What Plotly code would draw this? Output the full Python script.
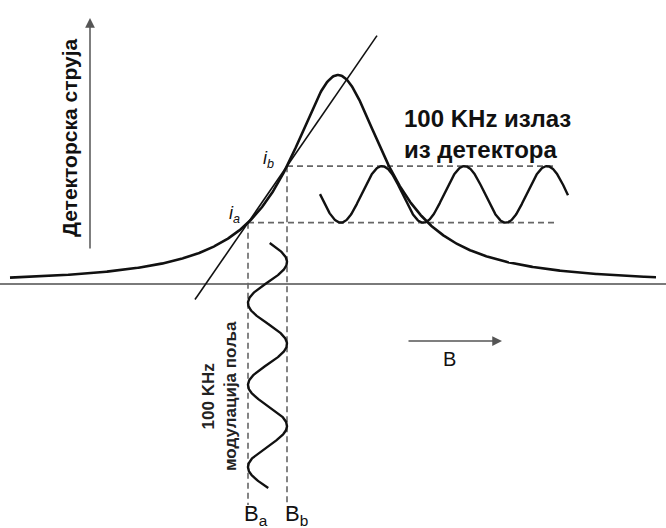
import numpy as np
import plotly.graph_objects as go

# Resonance line (Lorentzian absorption) of the detector current vs field B
B_center = 338.0      # resonance field
line_height = 209.0   # peak detector current above baseline
half_width = 58.0     # half width at half maximum
B_span = [10.0, 656.0]

# Operating points on the flank of the line
B_a = 248.0
B_b = 287.0

# 100 kHz field modulation drawn below the axis (vertical sine)
mod_period = 82.0
mod_phase_y = -262.0 + 284.0   # level of first B_b extreme
mod_y_span = [41.0, -204.0]

# 100 kHz output of the detector (horizontal sine)
out_period = 82.5
out_peak_B = 382.0
out_B_span = [320.0, 568.0]

# Extents of helper lines
guide_bottom = -221.0
guide_right_b = 555.0
guide_right_a = 558.0
secant_B_span = [195.0, 377.0]

BLACK = "#111111"
GREY = "#555555"
DASH = "#666666"
FONT = "Liberation Sans, Arial, sans-serif"


def lorentz(B):
    return line_height / (1.0 + ((B - B_center) / half_width) ** 2)


I_a = lorentz(B_a)
I_b = lorentz(B_b)

fig = go.Figure()

# baseline of the current axis
fig.add_trace(go.Scatter(x=[0, 666], y=[0, 0], mode="lines",
                         line=dict(color="#7a7a7a", width=2.2), hoverinfo="skip"))

# dashed guides
for xs, ys in [
    ([B_a, B_a], [I_a, guide_bottom]),
    ([B_b, B_b], [I_b, guide_bottom]),
    ([B_b, guide_right_b], [I_b, I_b]),
    ([B_a, guide_right_a], [I_a, I_a]),
]:
    fig.add_trace(go.Scatter(x=xs, y=ys, mode="lines",
                             line=dict(color=DASH, width=1.6, dash="6px,4px"),
                             hoverinfo="skip"))

# resonance curve
B = np.linspace(B_span[0], B_span[1], 800)
fig.add_trace(go.Scatter(x=B, y=lorentz(B), mode="lines",
                         line=dict(color=BLACK, width=2.6), hoverinfo="skip"))

# straight line through the two operating points
slope = (I_b - I_a) / (B_b - B_a)
sx = np.array(secant_B_span)
fig.add_trace(go.Scatter(x=sx, y=I_a + slope * (sx - B_a), mode="lines",
                         line=dict(color=BLACK, width=1.6), hoverinfo="skip"))

# modulation sine (field oscillates between B_a and B_b)
my = np.linspace(mod_y_span[0], mod_y_span[1], 500)
mx = (B_a + B_b) / 2 + (B_b - B_a) / 2 * np.cos(2 * np.pi * (mod_phase_y - my) / mod_period)
fig.add_trace(go.Scatter(x=mx, y=my, mode="lines",
                         line=dict(color=BLACK, width=2.4), hoverinfo="skip"))

# detector output sine (current oscillates between I_a and I_b)
ox = np.linspace(out_B_span[0], out_B_span[1], 500)
oy = (I_a + I_b) / 2 + (I_b - I_a) / 2 * np.cos(2 * np.pi * (ox - out_peak_B) / out_period)
fig.add_trace(go.Scatter(x=ox, y=oy, mode="lines",
                         line=dict(color=BLACK, width=2.4), hoverinfo="skip"))

ann = []
# current axis arrow
ann.append(dict(x=90, y=266, ax=90, ay=34, xref="x", yref="y", axref="x", ayref="y",
                text="", showarrow=True, arrowhead=2, arrowsize=1.3, arrowwidth=1.5,
                arrowcolor=GREY))
# field direction arrow
ann.append(dict(x=502, y=-57, ax=407, ay=-57, xref="x", yref="y", axref="x", ayref="y",
                text="", showarrow=True, arrowhead=2, arrowsize=1.3, arrowwidth=1.5,
                arrowcolor=GREY))

ann.append(dict(x=69, y=146, text="<b>Детекторска струја</b>", textangle=-90,
                showarrow=False, font=dict(family=FONT, size=21, color=BLACK)))
ann.append(dict(x=402, y=150, xanchor="left", align="left",
                text="<b>100 KHz излаз<br>из детектора</b>",
                showarrow=False, font=dict(family=FONT, size=24, color=BLACK)))
ann.append(dict(x=449, y=-75, text="B", showarrow=False,
                font=dict(family=FONT, size=20, color=BLACK)))
ann.append(dict(x=219, y=-112, text="<b>100 KHz<br>модулација поља</b>", textangle=-90,
                showarrow=False, font=dict(family=FONT, size=17, color="#222222")))
ann.append(dict(x=B_a + 8, y=-231, text="B<sub>a</sub>", showarrow=False,
                font=dict(family=FONT, size=22, color=BLACK)))
ann.append(dict(x=B_b + 9, y=-231, text="B<sub>b</sub>", showarrow=False,
                font=dict(family=FONT, size=22, color=BLACK)))
ann.append(dict(x=B_b - 19, y=I_b + 7, text="<i>i<sub>b</sub></i>", showarrow=False,
                font=dict(family=FONT, size=18, color=BLACK)))
ann.append(dict(x=B_a - 14, y=I_a + 8, text="<i>i<sub>a</sub></i>", showarrow=False,
                font=dict(family=FONT, size=18, color=BLACK)))

fig.update_layout(
    width=666, height=528,
    margin=dict(l=0, r=0, t=0, b=0),
    paper_bgcolor="white", plot_bgcolor="white",
    showlegend=False,
    annotations=ann,
    xaxis=dict(range=[0, 666], visible=False, fixedrange=True),
    yaxis=dict(range=[284 - 528, 284], visible=False, fixedrange=True),
)

fig.write_html("out.html", config={"displayModeBar": False})
